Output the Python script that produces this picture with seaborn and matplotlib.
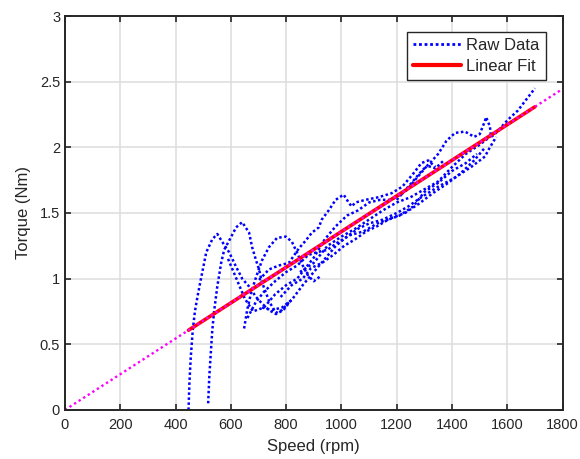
import pandas as pd
import matplotlib.pyplot as plt
import seaborn as sns
from matplotlib.lines import Line2D

seg1_speed = [447, 450, 455, 462, 470, 480, 493, 511, 533, 551, 569, 594, 619, 641, 666, 691, 713, 738, 763, 790, 820]
seg1_torque = [0.0, 0.2, 0.4, 0.6, 0.75, 0.87, 1.01, 1.2, 1.3, 1.34, 1.28, 1.2, 1.09, 1.0, 0.94, 0.86, 0.81, 0.76, 0.73, 0.76, 0.84]

seg2_speed = [518, 522, 528, 533, 540, 551, 565, 576, 594, 619, 641, 666, 677, 691, 702, 713, 740, 763, 785, 810]
seg2_torque = [0.05, 0.25, 0.45, 0.61, 0.76, 0.94, 1.12, 1.22, 1.29, 1.39, 1.43, 1.35, 1.24, 1.14, 1.07, 0.97, 0.82, 0.74, 0.76, 0.82]

seg3_speed = [648, 659, 673, 691, 713, 738, 767, 799, 821, 839, 860, 880, 900, 925]
seg3_torque = [0.62, 0.76, 0.89, 1.01, 1.14, 1.24, 1.31, 1.32, 1.28, 1.2, 1.1, 1.02, 0.98, 1.02]

seg4_speed = [702, 738, 774, 810, 846, 871, 893, 918, 929, 954, 979, 1008, 1026, 1037, 1051, 1087, 1134, 1181, 1220, 1260, 1289, 1314, 1340]
seg4_torque = [0.99, 1.07, 1.1, 1.12, 1.23, 1.29, 1.35, 1.39, 1.45, 1.52, 1.6, 1.64, 1.58, 1.55, 1.58, 1.6, 1.62, 1.65, 1.7, 1.8, 1.88, 1.9, 1.85]

seg5_speed = [713, 749, 785, 821, 860, 900, 940, 980, 1020, 1060, 1100, 1150, 1200, 1242, 1289, 1350, 1411, 1469, 1519, 1537, 1560]
seg5_torque = [0.78, 0.76, 0.78, 0.84, 0.95, 1.05, 1.15, 1.25, 1.32, 1.38, 1.42, 1.45, 1.5, 1.55, 1.62, 1.7, 1.77, 1.85, 1.93, 2.0, 2.08]

seg6_speed = [1200, 1250, 1290, 1320, 1350, 1380, 1411, 1447, 1480, 1500, 1519, 1523, 1537, 1541, 1555, 1602, 1638, 1667, 1700]
seg6_torque = [1.6, 1.72, 1.82, 1.88, 1.95, 2.05, 2.11, 2.12, 2.08, 2.1, 2.2, 2.23, 2.16, 2.08, 2.1, 2.21, 2.28, 2.36, 2.45]

seg7_speed = [850, 900, 950, 1000, 1050, 1100, 1150, 1200, 1250, 1300, 1350, 1400, 1450, 1500, 1550, 1600]
seg7_torque = [1.05, 1.12, 1.25, 1.32, 1.38, 1.45, 1.52, 1.58, 1.62, 1.68, 1.74, 1.85, 1.95, 2.02, 2.1, 2.18]

seg8_speed = [660, 690, 720, 760, 800, 840, 880, 910, 950, 990, 1030, 1080, 1130, 1180, 1230, 1280, 1330, 1380, 1430, 1480, 1520]
seg8_torque = [0.7, 0.82, 0.9, 0.98, 1.05, 1.1, 1.18, 1.2, 1.22, 1.28, 1.33, 1.36, 1.42, 1.46, 1.5, 1.57, 1.65, 1.72, 1.8, 1.9, 2.0]

seg9_speed = [590, 620, 650, 680, 720, 760, 800, 840, 870, 900, 940, 980, 1020, 1060, 1100, 1140, 1180, 1230, 1270, 1310, 1340, 1370]
seg9_torque = [1.15, 1.0, 0.85, 0.75, 0.78, 0.88, 0.95, 1.0, 1.08, 1.16, 1.3, 1.4, 1.48, 1.52, 1.58, 1.6, 1.6, 1.66, 1.76, 1.86, 1.84, 1.9]

seg10_speed = [780, 820, 860, 890, 930, 970, 1010, 1050, 1090, 1130, 1170, 1210, 1260, 1300, 1350, 1400, 1450, 1490]
seg10_torque = [0.86, 0.95, 1.0, 1.08, 1.12, 1.18, 1.25, 1.3, 1.36, 1.4, 1.45, 1.48, 1.55, 1.66, 1.73, 1.82, 1.88, 1.95]

# Linear fit over data range and its extension through the whole axis
fit_speed = [447, 1700]
fit_torque = [0.607, 2.309]
ext_speed = [0, 1800]
ext_torque = [0.0, 2.445]

segments = [
    (seg1_speed, seg1_torque), (seg2_speed, seg2_torque), (seg3_speed, seg3_torque),
    (seg4_speed, seg4_torque), (seg5_speed, seg5_torque), (seg6_speed, seg6_torque),
    (seg7_speed, seg7_torque), (seg8_speed, seg8_torque), (seg9_speed, seg9_torque),
    (seg10_speed, seg10_torque),
]

sns.set_theme(style="whitegrid")
plt.rcParams['font.family'] = ['Liberation Sans', 'DejaVu Sans']

fig = plt.figure(figsize=(5.8, 4.59), dpi=100)
ax = fig.add_axes([0.112, 0.107, 0.858, 0.858])

for sx, sy in segments:
    df = pd.DataFrame({"speed": sx, "torque": sy})
    sns.lineplot(data=df, x="speed", y="torque", ax=ax, sort=False, estimator=None,
                 color="#0000ff", linewidth=1.8, linestyle=(0, (1, 1)))

sns.lineplot(x=fit_speed, y=fit_torque, ax=ax, color="#ff0000", linewidth=2.6, sort=False)
sns.lineplot(x=ext_speed, y=ext_torque, ax=ax, color="#ff00ff", linewidth=1.7,
             linestyle=(0, (1, 1.3)), sort=False)

ax.set_xlim(0, 1800)
ax.set_ylim(0, 3)
ax.set_xticks(range(0, 1801, 200))
ax.set_yticks([0, 0.5, 1, 1.5, 2, 2.5, 3])
ax.set_yticklabels(["0", "0.5", "1", "1.5", "2", "2.5", "3"])

ax.set_facecolor("white")
ax.grid(True, color="#dcdcdc", linewidth=1.1)
for s in ax.spines.values():
    s.set_visible(True)
    s.set_color("#262626")
    s.set_linewidth(1.4)
ax.tick_params(direction="in", length=4, width=1.2, colors="#262626",
               labelsize=10.5, top=True, right=True, labeltop=False, labelright=False,
               bottom=True, left=True)
ax.tick_params(axis="x", pad=6)

ax.set_xlabel("Speed (rpm)", fontsize=12, color="#262626", labelpad=5)
ax.set_ylabel("Torque (Nm)", fontsize=12, color="#262626", labelpad=6)

handles = [
    Line2D([], [], color="#0000ff", linewidth=2.0, linestyle=(0, (1, 1))),
    Line2D([], [], color="#ff0000", linewidth=3.0),
]
leg = ax.legend(handles, ["Raw Data", "Linear Fit"], loc="upper right",
                bbox_to_anchor=(0.966, 0.959), fontsize=12, frameon=True,
                fancybox=False, framealpha=1, edgecolor="#262626",
                handlelength=2.9, handletextpad=0.3, borderpad=0.35, labelspacing=0.35,
                borderaxespad=0)
leg.get_frame().set_linewidth(1.0)

fig.savefig("out.png", dpi=100)
plt.close(fig)
